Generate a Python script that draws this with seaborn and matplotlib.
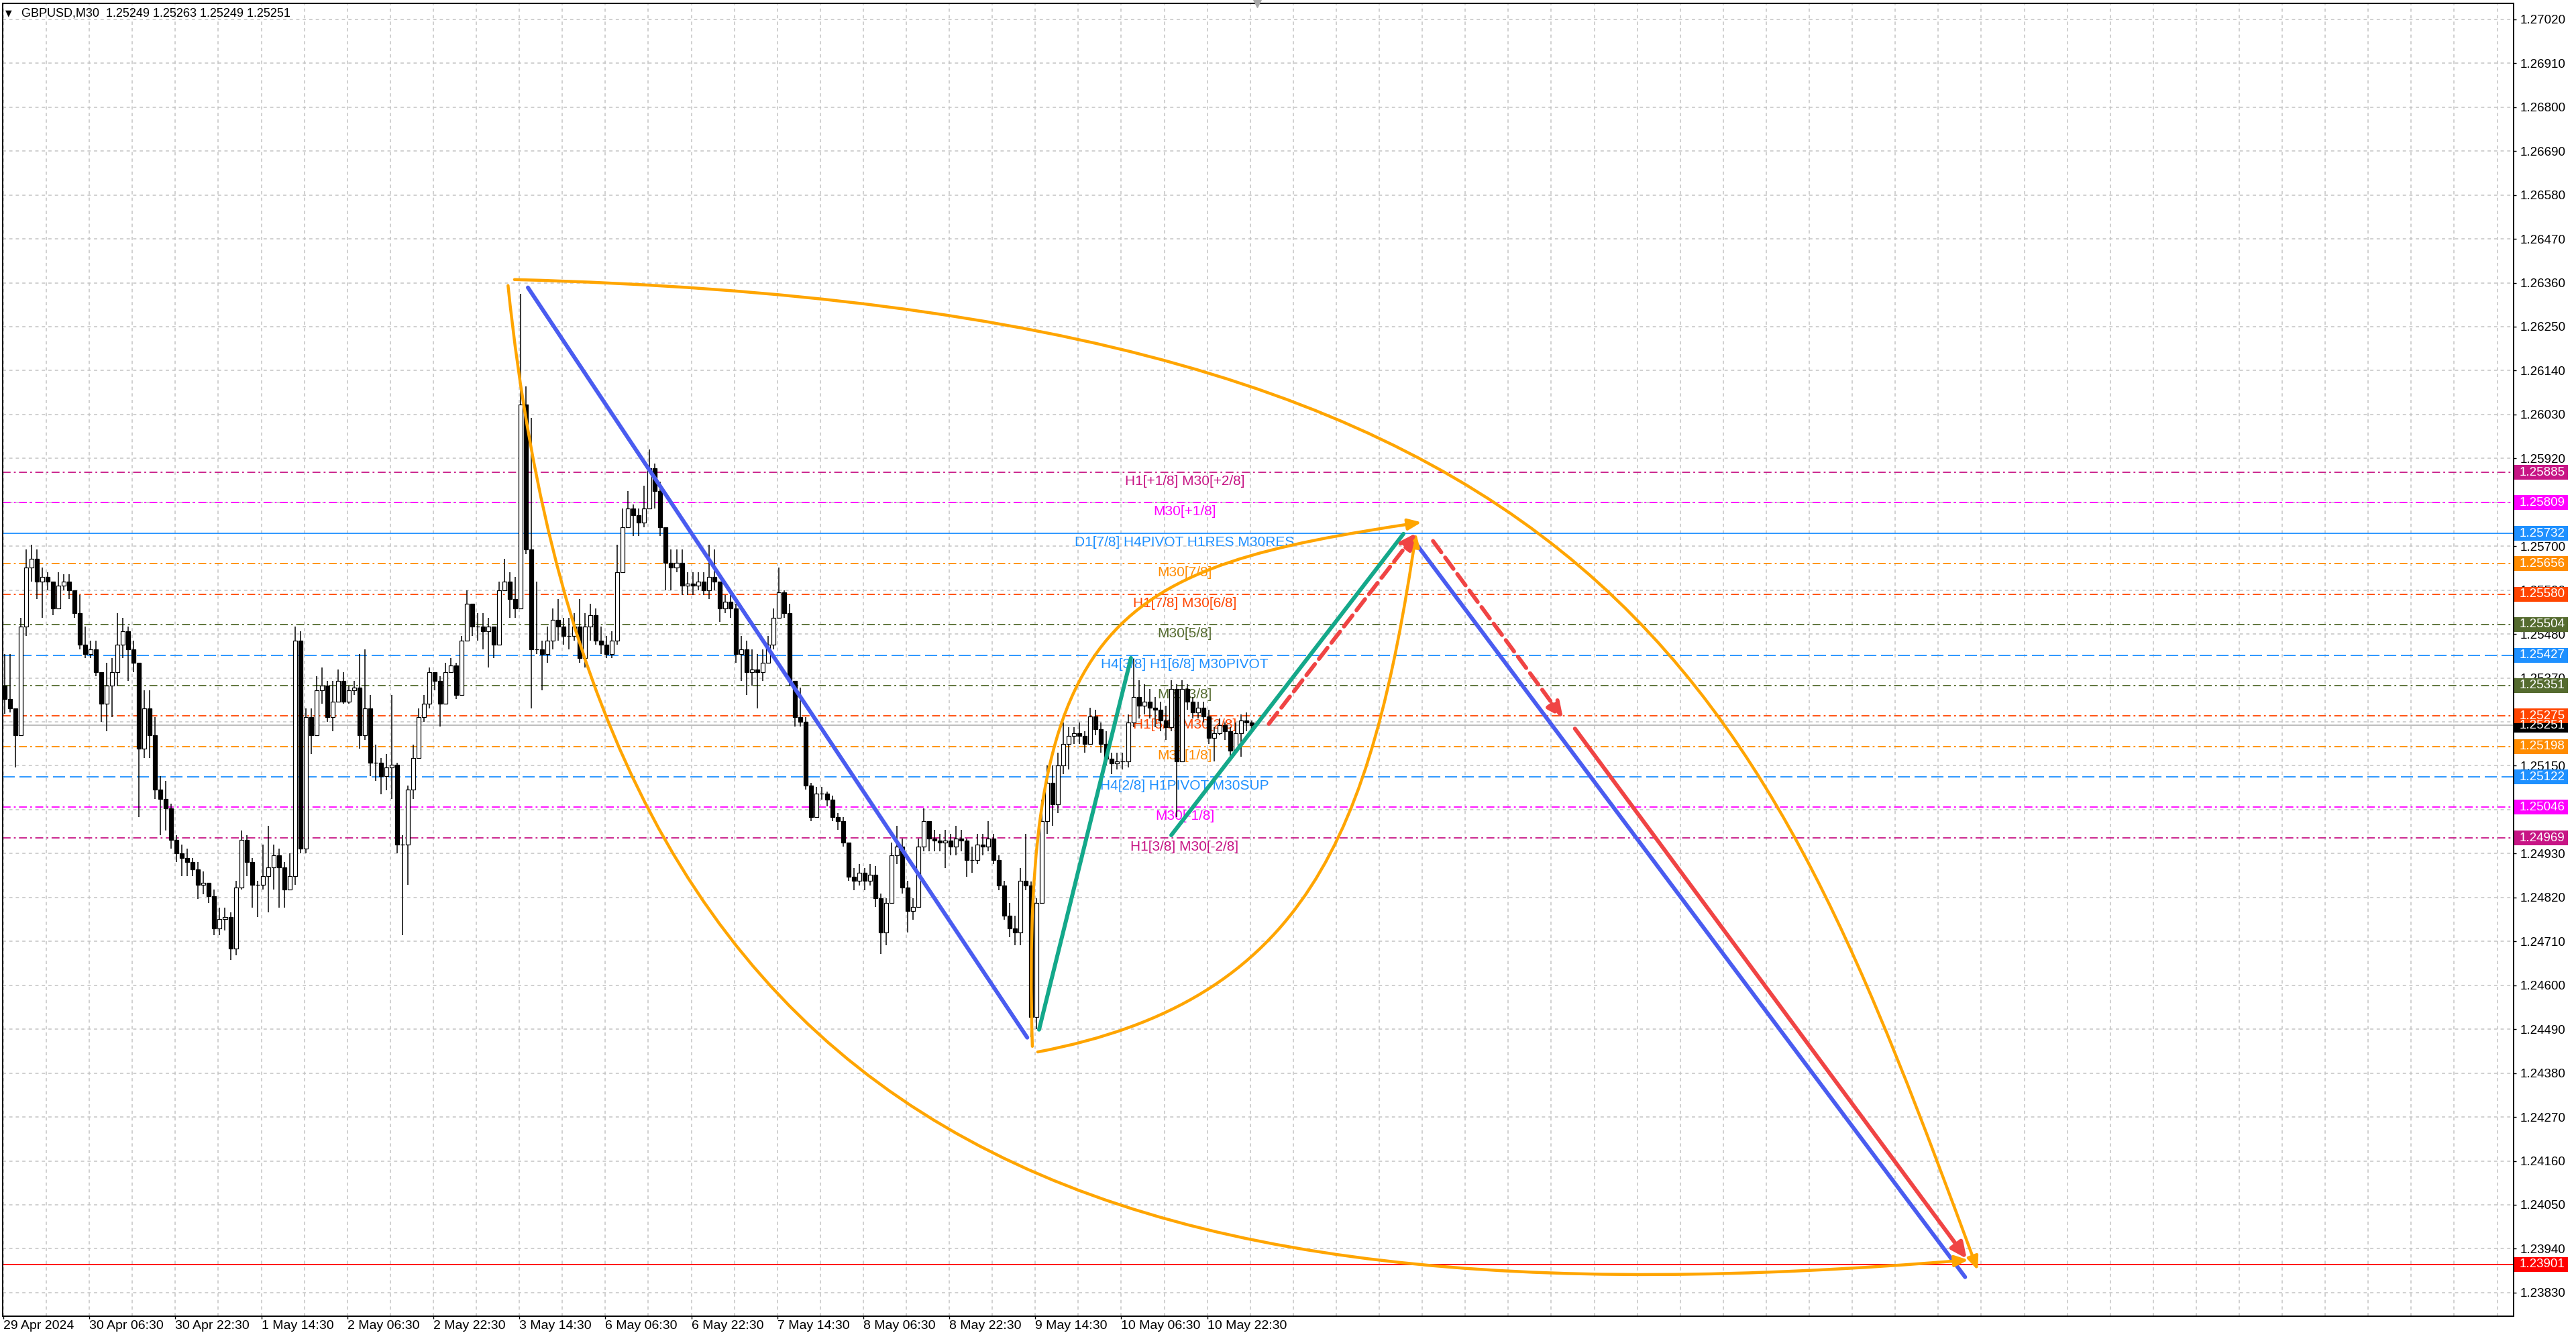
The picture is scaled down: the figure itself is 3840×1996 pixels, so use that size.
import numpy as np
import pandas as pd
import matplotlib
matplotlib.use("Agg")
import matplotlib.pyplot as plt
from matplotlib.patches import FancyArrowPatch, Rectangle, ArrowStyle
from matplotlib.path import Path
from matplotlib.transforms import blended_transform_factory
import seaborn as sns

sns.set_theme(style="white")
plt.rcParams['font.family'] = ['Liberation Sans', 'DejaVu Sans']
plt.rcParams['lines.scale_dashes'] = False

# GBPUSD M30, aggregated two bars per candle, prices as 1e-5 offsets from 1.24000
first_open = 1350
closes = [1317, 1294, 1226, 1498, 1646, 1669, 1612, 1623, 1612, 1544,
          1601, 1612, 1589, 1533, 1453, 1430, 1442, 1385, 1305, 1351,
          1385, 1453, 1487, 1442, 1408, 1192, 1294, 1226, 1090, 1067,
          1044, 965, 930, 919, 908, 891, 851, 857, 823, 743,
          766, 771, 692, 845, 965, 908, 851, 851, 874, 896,
          925, 896, 840, 874, 1464, 942, 1271, 1226, 1339, 1351,
          1271, 1311, 1362, 1311, 1339, 1345, 1226, 1294, 1158, 1158,
          1124, 1146, 1152, 953, 953, 1090, 1169, 1271, 1305, 1385,
          1362, 1305, 1385, 1402, 1328, 1464, 1555, 1498, 1498, 1487,
          1498, 1453, 1589, 1612, 1567, 1544, 2055, 1692, 1442, 1442,
          1430, 1464, 1515, 1498, 1476, 1476, 1498, 1419, 1498, 1527,
          1464, 1453, 1430, 1464, 1635, 1748, 1794, 1777, 1760, 1794,
          1896, 1839, 1748, 1658, 1646, 1658, 1601, 1606, 1601, 1612,
          1589, 1623, 1612, 1544, 1561, 1544, 1430, 1442, 1385, 1391,
          1385, 1408, 1453, 1521, 1584, 1533, 1362, 1271, 1260,
          1101, 1022, 1081, 1081, 1065, 1022, 1011, 957, 872, 861,
          882, 861, 877, 818, 732, 807, 925, 947, 845, 786,
          797, 947, 1011, 968, 963, 957, 963, 947, 968, 963,
          914, 914, 952, 947, 968, 914, 850, 775, 743, 732,
          861, 850, 520, 807, 1011, 1107, 1054, 1150, 1204, 1225,
          1231, 1225, 1204, 1274, 1242, 1204, 1167, 1156, 1161, 1161,
          1258, 1322, 1301, 1311, 1295, 1290, 1263, 1247, 1343, 1161,
          1343, 1311, 1284, 1295, 1274, 1220, 1231, 1252, 1236, 1188,
          1231, 1263, 1258, 1251]
highs = [1430, 1430, 1294, 1521, 1692, 1703, 1692, 1646, 1635, 1612,
         1635, 1629, 1629, 1589, 1578, 1498, 1464, 1464, 1385, 1408,
         1419, 1533, 1521, 1498, 1464, 1408, 1339, 1339, 1271, 1124,
         1112, 1055, 976, 953, 942, 919, 908, 885, 851, 840,
         794, 794, 783, 862, 987, 976, 919, 862, 953, 999,
         953, 942, 908, 930, 1498, 1487, 1294, 1294, 1374, 1396,
         1362, 1362, 1391, 1385, 1351, 1362, 1430, 1442, 1328, 1203,
         1169, 1180, 1328, 1158, 976, 1101, 1203, 1294, 1328, 1396,
         1385, 1374, 1408, 1419, 1408, 1476, 1589, 1544, 1533, 1533,
         1521, 1498, 1612, 1669, 1635, 1623, 2333, 2101, 2021, 1612,
         1464, 1498, 1544, 1567, 1521, 1521, 1533, 1567, 1533, 1555,
         1544, 1498, 1476, 1487, 1703, 1794, 1839, 1805, 1794, 1851,
         1942, 1907, 1862, 1748, 1692, 1692, 1692, 1635, 1635, 1635,
         1635, 1703, 1692, 1601, 1578, 1578, 1555, 1476, 1464, 1442,
         1430, 1442, 1476, 1544, 1646, 1589, 1555, 1362, 1345,
         1271, 1107, 1097, 1097, 1086, 1075, 1032, 1022, 957, 893,
         904, 893, 904, 898, 829, 818, 957, 1000, 968, 861,
         818, 968, 1043, 1011, 990, 979, 990, 979, 1000, 990,
         968, 947, 979, 979, 1011, 979, 925, 861, 807, 775,
         893, 979, 860, 818, 1065, 1150, 1150, 1183, 1258, 1247,
         1247, 1258, 1236, 1295, 1290, 1258, 1236, 1183, 1183, 1183,
         1279, 1418, 1365, 1354, 1343, 1322, 1311, 1301, 1365, 1354,
         1365, 1354, 1322, 1311, 1311, 1290, 1247, 1268, 1258, 1247,
         1258, 1279, 1284, 1263]
lows = [1280, 1283, 1146, 1226, 1476, 1612, 1567, 1521, 1589, 1527,
        1578, 1589, 1567, 1521, 1442, 1419, 1419, 1374, 1260, 1237,
        1271, 1351, 1419, 1362, 1385, 1021, 1169, 1169, 1067, 976,
        987, 942, 908, 874, 874, 874, 817, 828, 806, 726,
        726, 737, 663, 675, 840, 874, 794, 771, 840, 783,
        840, 794, 794, 840, 851, 930, 930, 1180, 1237, 1305,
        1260, 1237, 1317, 1305, 1305, 1328, 1192, 1215, 1124, 1112,
        1078, 1089, 1067, 930, 726, 851, 1067, 1180, 1260, 1294,
        1339, 1249, 1305, 1385, 1317, 1339, 1464, 1476, 1464, 1442,
        1396, 1419, 1453, 1589, 1521, 1521, 1544, 1680, 1294, 1430,
        1339, 1408, 1442, 1464, 1453, 1442, 1464, 1408, 1396, 1464,
        1453, 1430, 1419, 1419, 1453, 1646, 1748, 1726, 1726, 1748,
        1794, 1794, 1726, 1589, 1589, 1635, 1578, 1578, 1578, 1589,
        1578, 1567, 1589, 1510, 1533, 1521, 1408, 1362, 1328, 1351,
        1294, 1362, 1408, 1442, 1521, 1521, 1351, 1249, 1249,
        1090, 1011, 1022, 1065, 1049, 1011, 990, 947, 861, 839,
        850, 839, 850, 797, 679, 700, 807, 904, 829, 732,
        764, 797, 936, 936, 936, 936, 893, 925, 925, 936,
        872, 882, 904, 925, 936, 904, 839, 764, 721, 700,
        700, 839, 470, 490, 807, 979, 1000, 1032, 1129, 1140,
        1204, 1204, 1183, 1204, 1226, 1183, 1150, 1129, 1140, 1140,
        1145, 1247, 1268, 1279, 1268, 1247, 1236, 1215, 1236, 1022,
        1161, 1290, 1268, 1268, 1258, 1204, 1161, 1226, 1215, 1161,
        1193, 1172, 1236, 1240]

time_labels = ["29 Apr 2024", "30 Apr 06:30", "30 Apr 22:30", "1 May 14:30",
               "2 May 06:30", "2 May 22:30", "3 May 14:30", "6 May 06:30",
               "6 May 22:30", "7 May 14:30", "8 May 06:30", "8 May 22:30",
               "9 May 14:30", "10 May 06:30", "10 May 22:30"]
price_ticks = [1.27020, 1.26910, 1.26800, 1.26690, 1.26580, 1.26470, 1.26360,
               1.26250, 1.26140, 1.26030, 1.25920, 1.25810, 1.25700, 1.25590,
               1.25480, 1.25370, 1.25260, 1.25150, 1.25040, 1.24930, 1.24820,
               1.24710, 1.24600, 1.24490, 1.24380, 1.24270, 1.24160, 1.24050,
               1.23940, 1.23830]

levels = [1.25885, 1.25809, 1.25732, 1.25656, 1.25580, 1.25504, 1.25427,
          1.25351, 1.25275, 1.25198, 1.25122, 1.25046, 1.24969]
level_texts = ["H1[+1/8] M30[+2/8]", "M30[+1/8]", "D1[7/8] H4PIVOT H1RES M30RES",
               "M30[7/8]", "H1[7/8] M30[6/8]", "M30[5/8]",
               "H4[3/8] H1[6/8] M30PIVOT", "M30[3/8]", "H1[5/8] M30[2/8]",
               "M30[1/8]", "H4[2/8] H1PIVOT M30SUP", "M30[-1/8]", "H1[3/8] M30[-2/8]"]
target_level = 1.23901
bid_price = 1.25251
header = "GBPUSD,M30  1.25249 1.25263 1.25249 1.25251"

# drawing objects anchored at (bar index, price)
blue_lines = [([195.2, 381.0], [1.26348, 1.24469]),
              ([526.3, 730.0], [1.25701, 1.23869])]
green_lines = [([385.4, 419.6], [1.24489, 1.25420]),
               ([434.6, 521.0], [1.24976, 1.25731])]
red_dashed = [((470.9, 1.25255), (525.7, 1.25733)),
              ((532.0, 1.25713), (580.4, 1.25269))]
red_solid = [((584.8, 1.25243), (730.6, 1.23915))]
orange_arcs = [[(190.2, 1.26368), (602.1, 1.26294), (654.3, 1.25348), (734.7, 1.23886)],
               [(187.8, 1.26353), (221.7, 1.24168), (406.6, 1.23733), (731.2, 1.23912)],
               [(382.9, 1.24447), (378.1, 1.25539), (415.4, 1.25647), (527.7, 1.25760)],
               [(384.9, 1.24433), (484.8, 1.24561), (508.9, 1.24976), (525.7, 1.25733)]]

# ---- styles
level_colors = ['#C71585', '#FF00FF', '#1E90FF', '#FF8C00', '#FF4500', '#556B2F', '#1E90FF',
                '#556B2F', '#FF4500', '#FF8C00', '#1E90FF', '#FF00FF', '#C71585']
dashdot = (0, (8.5, 3.5, 2.0, 3.5))
dashed = (0, (13, 5))
level_styles = [dashdot, dashdot, '-', dashdot, dashdot, dashdot, dashed,
                dashdot, dashdot, dashdot, dashed, dashdot, dashdot]

W, H = 3840, 1996
fig = plt.figure(figsize=(W / 100, H / 100), dpi=100)
fig.patch.set_facecolor('white')
ax = fig.add_axes([4 / W, 1 - 1962 / H, (3747 - 4) / W, (1962 - 5) / H])
ax.set_facecolor('white')
ax.set_xlim(-0.25, 934.1)
ax.set_ylim(1.23771, 1.27060)

# grid
ax.set_xticks(np.arange(0, 449, 32))
ax.set_xticks(np.arange(16, 929, 16), minor=True)
ax.set_yticks(price_ticks)
ax.grid(which='both', axis='x', color='#C4C4C4', lw=1.1, linestyle=(0, (3.5, 3.5)), zorder=0)
ax.grid(which='major', axis='y', color='#C4C4C4', lw=1.1, linestyle=(0, (3.5, 3.5)), zorder=0)
ax.set_axisbelow(True)

# level lines and their names
for lv, col, ls, txt in zip(levels, level_colors, level_styles, level_texts):
    ax.axhline(lv, color=col, lw=1.3, linestyle=ls, zorder=1.5)
    ax.annotate(txt, xy=(439.6, lv), xytext=(0, -19), textcoords='offset pixels',
                ha='center', va='baseline', color=col, fontsize=15, zorder=2)
ax.axhline(bid_price, color='#B8B8B8', lw=1.3, zorder=1.4)
ax.axhline(target_level, color='#FF0000', lw=1.4, zorder=1.5)

# candles
cl = 1.24 + np.array(closes) / 1e5
op = np.r_[1.24 + first_open / 1e5, cl[:-1]]
hi = np.maximum(1.24 + np.array(highs) / 1e5, np.maximum(op, cl))
lo = np.minimum(1.24 + np.array(lows) / 1e5, np.minimum(op, cl))
xs = np.arange(len(cl)) * 2 + 0.5
up = cl >= op
ax.vlines(xs, lo, hi, color='black', lw=1.1, zorder=3)
ax.bar(xs[up], (cl - op)[up], bottom=op[up], width=1.5, color='white',
       edgecolor='black', lw=0.9, zorder=3.2)
ax.bar(xs[~up], (op - cl)[~up], bottom=cl[~up], width=1.5, color='black',
       edgecolor='black', lw=0.9, zorder=3.2)

# trend lines
for bx, by in blue_lines:
    sns.lineplot(x=bx, y=by, color='#4A5CF0', lw=4.3, ax=ax, zorder=5,
                 solid_capstyle='round')
for gx, gy in green_lines:
    sns.lineplot(x=gx, y=gy, color='#14A88A', lw=4.3, ax=ax, zorder=5,
                 solid_capstyle='round')

red_head = ArrowStyle('-|>', head_length=1.4, head_width=0.65)
for a, b in red_dashed:
    ax.add_patch(FancyArrowPatch(a, b, arrowstyle=red_head, mutation_scale=10,
                                 shrinkA=0, shrinkB=0, color='#F04444', lw=4.3,
                                 linestyle=(0, (15, 7)), zorder=6))
for a, b in red_solid:
    ax.add_patch(FancyArrowPatch(a, b, arrowstyle=red_head, mutation_scale=10,
                                 shrinkA=0, shrinkB=0, color='#F04444', lw=4.3,
                                 capstyle='round', zorder=6))

orange_head = ArrowStyle('-|>', head_length=1.2, head_width=0.5)
for pts in orange_arcs:
    path = Path(pts, [Path.MOVETO, Path.CURVE4, Path.CURVE4, Path.CURVE4])
    ax.add_patch(FancyArrowPatch(path=path, arrowstyle=orange_head, mutation_scale=10,
                                 color='#FFA500', lw=3.2, capstyle='round', zorder=5.5))

# axis styling
for s in ax.spines.values():
    s.set_color('black')
    s.set_linewidth(1.4)
ax.yaxis.tick_right()
ax.set_yticklabels([f"{p:.5f}" for p in price_ticks])
ax.set_xticklabels(time_labels)
plt.setp(ax.get_xticklabels(), ha='left')
ax.tick_params(axis='y', which='major', length=3, width=1, pad=4, labelsize=13.5,
               colors='black', right=True, left=False)
ax.tick_params(axis='x', which='major', length=3, width=1, pad=1.5, labelsize=14,
               colors='black', bottom=True)
ax.tick_params(axis='x', which='minor', length=0)
ax.set_xlabel('')
ax.set_ylabel('')

# price tags on the right scale
tr = blended_transform_factory(ax.transAxes, ax.transData)
tag_h = 22 / 59500
tags = [(bid_price, 'black')] + list(zip(levels, level_colors)) + [(target_level, '#FF0000')]
for p, col in tags:
    ax.add_patch(Rectangle((1.00027, p - tag_h / 2), 0.02137, tag_h, transform=tr,
                           facecolor=col, edgecolor='none', clip_on=False, zorder=8))
    ax.text(1.0024, p, f"{p:.5f}", transform=tr, color='white', fontsize=13.5,
            ha='left', va='center', clip_on=False, zorder=9)

# header and chart shift marker
fig.text(8 / W, 1 - 20 / H, '\u25bc', fontsize=9, family='DejaVu Sans',
         va='center', ha='left', color='black')
fig.text(32 / W, 1 - 20 / H, header, fontsize=13, va='center', ha='left', color='black')
ax.plot([466.5], [1.27060], marker='v', ms=8, color='#A8A8A8', clip_on=False, zorder=9)

fig.savefig('out.png', dpi=100, facecolor='white')
